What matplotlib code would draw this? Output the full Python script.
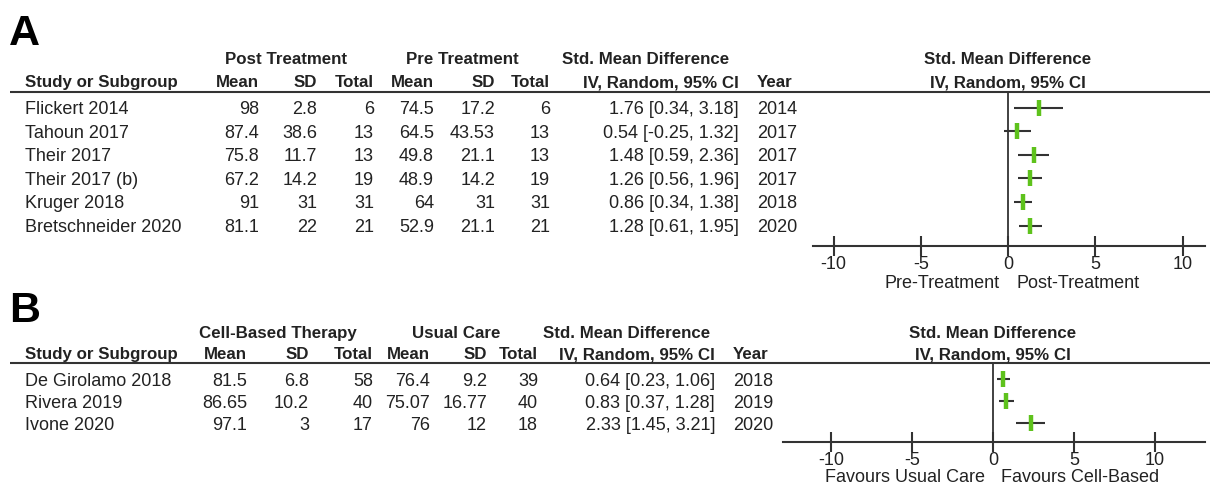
"""
Forest plots (RevMan style) — two panels, A and B.
"""

import matplotlib
matplotlib.use("Agg")
import matplotlib.pyplot as plt


# ─────────────────────────────────────────────
#  Data
# ─────────────────────────────────────────────

# Panel A : post vs pre treatment
studies_a  = ["Flickert 2014", "Tahoun 2017", "Their 2017", "Their 2017 (b)",
              "Kruger 2018", "Bretschneider 2020"]
post_mean  = [98, 87.4, 75.8, 67.2, 91, 81.1]
post_sd    = [2.8, 38.6, 11.7, 14.2, 31, 22]
post_n     = [6, 13, 13, 19, 31, 21]
pre_mean   = [74.5, 64.5, 49.8, 48.9, 64, 52.9]
pre_sd     = [17.2, 43.53, 21.1, 14.2, 31, 21.1]
pre_n      = [6, 13, 13, 19, 31, 21]
smd_a      = [1.76, 0.54, 1.48, 1.26, 0.86, 1.28]
lo_a       = [0.34, -0.25, 0.59, 0.56, 0.34, 0.61]
hi_a       = [3.18, 1.32, 2.36, 1.96, 1.38, 1.95]
year_a     = [2014, 2017, 2017, 2017, 2018, 2020]

# Panel B : cell-based therapy vs usual care
studies_b  = ["De Girolamo 2018", "Rivera 2019", "Ivone 2020"]
cell_mean  = [81.5, 86.65, 97.1]
cell_sd    = [6.8, 10.2, 3]
cell_n     = [58, 40, 17]
usual_mean = [76.4, 75.07, 76]
usual_sd   = [9.2, 16.77, 12]
usual_n    = [39, 40, 18]
smd_b      = [0.64, 0.83, 2.33]
lo_b       = [0.23, 0.37, 1.45]
hi_b       = [1.06, 1.28, 3.21]
year_b     = [2018, 2019, 2020]

ticks = [-10, -5, 0, 5, 10]


# ─────────────────────────────────────────────
#  Style
# ─────────────────────────────────────────────

W, H = 1210, 484
FONT   = "Liberation Sans"
TXT    = "#222222"
LINE   = "#333333"
GREEN  = "#5ec21c"
BODY   = 13.0
HEAD   = 12.2

fig = plt.figure(figsize=(W / 100, H / 100), dpi=100)
bg = fig.add_axes([0, 0, 1, 1])
bg.set_xlim(0, W)
bg.set_ylim(H, 0)
bg.axis("off")


def txt(x, y, s, ha="left", bold=False, size=None, color=TXT):
    bg.text(x, y, s, ha=ha, va="baseline", color=color, family=FONT,
            fontsize=size or (HEAD if bold else BODY),
            fontweight="bold" if bold else "normal")


def fmt(v):
    return f"{v:g}"


def draw_table(cfg):
    """Left side of a panel: headers, rule and study rows."""
    txt(9, cfg["label_y"], cfg["label"], bold=True, size=31, color="black")
    for name, cx in cfg["groups"]:
        txt(cx, cfg["head1"], name, ha="center", bold=True)
    txt(25, cfg["head2"], "Study or Subgroup", bold=True)
    heads = ["Mean", "SD", "Total", "Mean", "SD", "Total", "IV, Random, 95% CI"]
    for h, x in zip(heads, cfg["cols"]):
        txt(x, cfg["head2"], h, ha="right", bold=True)
    txt(cfg["year_x"], cfg["head2"], "Year", bold=True)
    bg.plot([10, W], [cfg["rule"], cfg["rule"]], color=LINE, lw=1.5,
            solid_capstyle="butt")

    for i, row in enumerate(zip(*cfg["rows"])):
        name, m1, s1, n1, m2, s2, n2, est, lo, hi, yr = row
        y = cfg["row0"] + i * cfg["step"] + 6.5
        txt(25, y, name)
        vals = [fmt(m1), fmt(s1), str(n1), fmt(m2), fmt(s2), str(n2),
                f"{est:.2f} [{lo:.2f}, {hi:.2f}]"]
        for v, x in zip(vals, cfg["cols"]):
            txt(x, y, v, ha="right")
        txt(cfg["year_x"], y, str(yr))


def draw_forest(cfg, est, lo, hi):
    """Right side of a panel: the forest plot itself."""
    x0, x1 = cfg["ax_px"]
    zero, ppu = cfg["zero_px"], cfg["px_per_unit"]
    top, axis_y = cfg["rule"], cfg["axis_px"]
    ax = fig.add_axes([x0 / W, (H - axis_y) / H, (x1 - x0) / W, (axis_y - top) / H])
    ax.patch.set_alpha(0)

    n = len(est)
    ax.set_xlim((x0 - zero) / ppu, (x1 - zero) / ppu)
    ax.set_ylim((axis_y - cfg["row0"]) / cfg["step"], (top - cfg["row0"]) / cfg["step"])

    ax.axvline(0, color=LINE, lw=1.3)
    for i in range(n):
        ax.plot([lo[i], hi[i]], [i, i], color=LINE, lw=1.5, solid_capstyle="butt")
        ax.plot(est[i], i, marker="|", ms=12, mew=3.2, color=GREEN)

    for s in ["top", "left", "right"]:
        ax.spines[s].set_visible(False)
    ax.spines["bottom"].set_color(LINE)
    ax.spines["bottom"].set_linewidth(1.5)
    ax.spines["bottom"].set_bounds(*cfg["axis_bounds"])
    ax.set_yticks([])
    ax.set_xticks(ticks)
    ax.set_xticklabels([str(t) for t in ticks], family=FONT, fontsize=BODY, color=TXT)
    ax.tick_params(axis="x", direction="inout", length=14, width=1.5,
                   color=LINE, pad=0.5)

    txt(zero, cfg["head1"], "Std. Mean Difference", ha="center", bold=True)
    txt(zero, cfg["head2"], "IV, Random, 95% CI", ha="center", bold=True)
    left, right = cfg["favours"]
    txt(zero - 8, cfg["fav_y"], left, ha="right")
    txt(zero + 8, cfg["fav_y"], right, ha="left")


# ─────────────────────────────────────────────
#  Panel A
# ─────────────────────────────────────────────

panel_a = {
    "label": "A", "label_y": 45,
    "groups": [("Post Treatment", 286), ("Pre Treatment", 462),
               ("Std. Mean Difference", 646)],
    "head1": 64, "head2": 87, "rule": 92,
    "cols": [259, 317, 374, 434, 495, 550, 739], "year_x": 757,
    "row0": 107.5, "step": 23.6,
    "rows": [studies_a, post_mean, post_sd, post_n, pre_mean, pre_sd, pre_n,
             smd_a, lo_a, hi_a, year_a],
    "ax_px": (800, 1210), "zero_px": 1008, "px_per_unit": 17.45,
    "axis_px": 246, "axis_bounds": (-11.2, 11.3),
    "favours": ("Pre-Treatment", "Post-Treatment"), "fav_y": 288,
}

# ─────────────────────────────────────────────
#  Panel B
# ─────────────────────────────────────────────

panel_b = {
    "label": "B", "label_y": 322,
    "groups": [("Cell-Based Therapy", 278), ("Usual Care", 456),
               ("Std. Mean Difference", 627)],
    "head1": 338, "head2": 359, "rule": 363,
    "cols": [247, 309, 373, 430, 487, 538, 715], "year_x": 733,
    "row0": 379, "step": 22,
    "rows": [studies_b, cell_mean, cell_sd, cell_n, usual_mean, usual_sd, usual_n,
             smd_b, lo_b, hi_b, year_b],
    "ax_px": (780, 1210), "zero_px": 993, "px_per_unit": 16.2,
    "axis_px": 442, "axis_bounds": (-12.95, 13.1),
    "favours": ("Favours Usual Care", "Favours Cell-Based"), "fav_y": 482,
}

draw_table(panel_a)
draw_forest(panel_a, smd_a, lo_a, hi_a)
draw_table(panel_b)
draw_forest(panel_b, smd_b, lo_b, hi_b)

fig.savefig("out.png", dpi=100, facecolor="white")
